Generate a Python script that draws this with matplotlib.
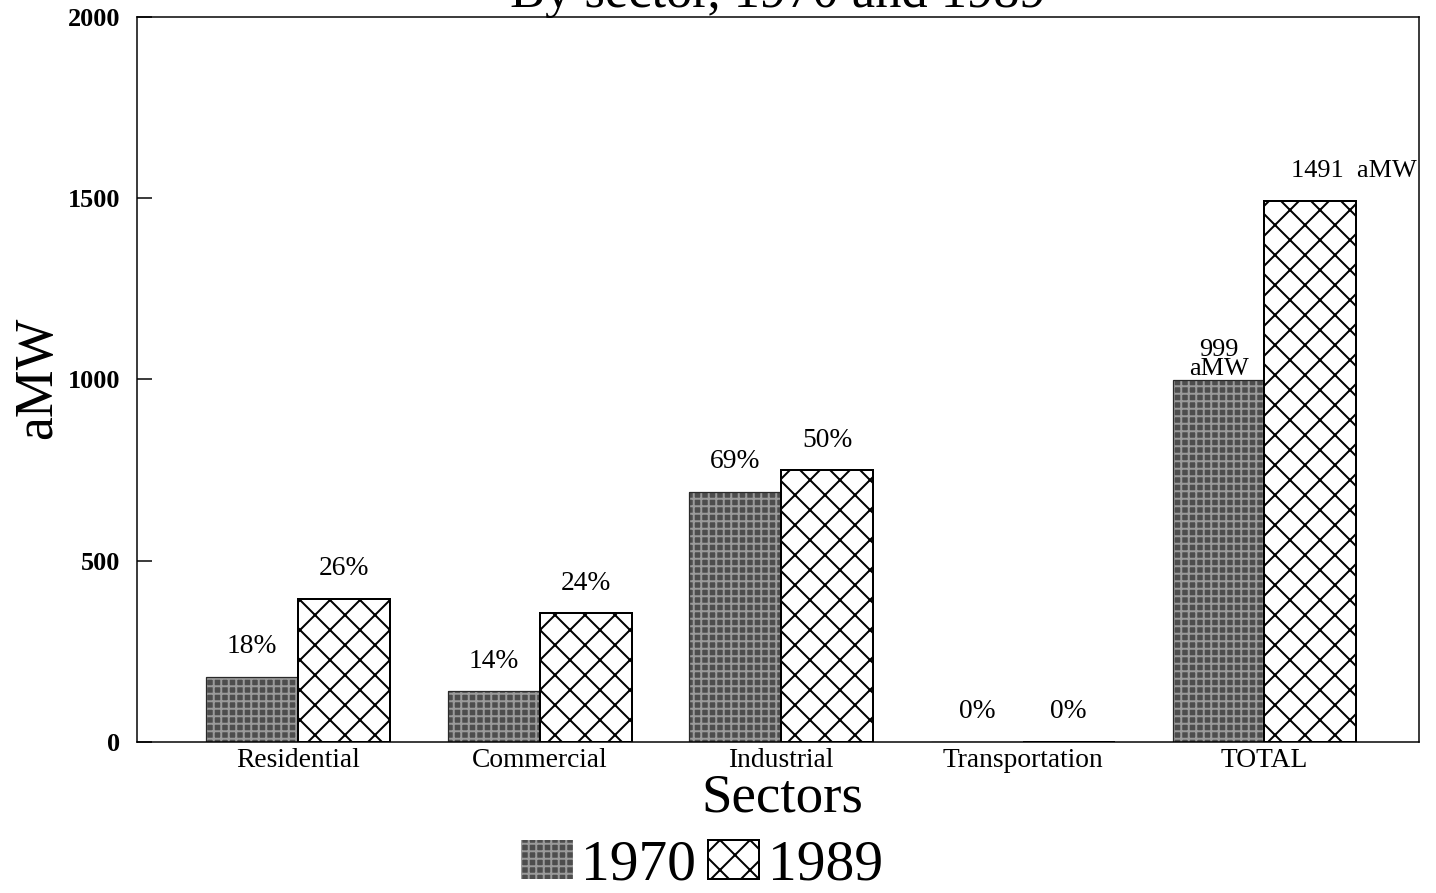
import matplotlib
matplotlib.use("Agg")
import matplotlib.pyplot as plt
import numpy as np

# ── Datos ──────────────────────────────────────────────────────────────────
SECTORES = ["Residential", "Commercial", "Industrial", "Transportation", "TOTAL"]
AMW_1970 = [180, 140, 690, 0, 999]
AMW_1989 = [395, 355, 750, 0, 1491]
PCT_1970 = ["18%", "14%", "69%", "0%"]
PCT_1989 = ["26%", "24%", "50%", "0%"]
Y_TICKS = [0, 500, 1000, 1500, 2000]

plt.rcParams["font.family"] = ["Liberation Serif", "DejaVu Serif"]
plt.rcParams["hatch.linewidth"] = 0.8

DPI = 180
fig = plt.figure(figsize=(1436 / DPI, 893 / DPI), dpi=DPI)
fig.patch.set_facecolor("white")
ax = fig.add_axes([0.0954, 0.1691, 0.8928, 0.8119])

x = np.arange(len(SECTORES))
w = 0.38

# ── Barras ─────────────────────────────────────────────────────────────────
b70 = ax.bar(x - w / 2, AMW_1970, w, color="#4d4d4d", edgecolor="#9a9a9a",
             hatch="++++", linewidth=0, label="1970")
ax.bar(x - w / 2, AMW_1970, w, fill=False, edgecolor="#2a2a2a", linewidth=0.5)
b89 = ax.bar(x + w / 2, AMW_1989, w, color="white", edgecolor="black",
             hatch="xx", linewidth=0.8, label="1989")

# porcentajes sobre cada barra
for i, txt in enumerate(PCT_1970):
    ax.annotate(txt, (x[i] - w / 2, AMW_1970[i]), xytext=(0, 12),
                textcoords="offset points", ha="center", va="center", fontsize=11)
for i, txt in enumerate(PCT_1989):
    ax.annotate(txt, (x[i] + w / 2, AMW_1989[i]), xytext=(0, 12),
                textcoords="offset points", ha="center", va="center", fontsize=11)

# totales
ax.annotate(f"{AMW_1970[-1]}\naMW", (x[-1] - w / 2, AMW_1970[-1]), xytext=(0, 0),
            textcoords="offset points", ha="center", va="bottom", fontsize=10.5,
            linespacing=0.8)
ax.annotate(f"{AMW_1989[-1]}  aMW", (x[-1] + w / 2, AMW_1989[-1]), xytext=(17.5, 12),
            textcoords="offset points", ha="center", va="center", fontsize=10.5)

# ── Ejes ───────────────────────────────────────────────────────────────────
ax.set_xlim(-0.667, 4.64)
ax.set_ylim(0, 2000)
ax.set_yticks(Y_TICKS)
ax.set_yticklabels([str(v) for v in Y_TICKS], fontsize=10.5, fontweight="bold")
ax.set_xticks(x)
ax.set_xticklabels(SECTORES, fontsize=11)
ax.tick_params(axis="y", direction="in", length=6, width=0.6, pad=6.8)
ax.tick_params(axis="x", length=0, pad=2.5)
for sp in ax.spines.values():
    sp.set_linewidth(0.6)

fig.text(778 / 1436, 1 - 7 / 893, "By sector, 1970 and 1989", ha="center",
         va="baseline", fontsize=21)
fig.text(38 / 1436, 1 - 378 / 893, "aMW", rotation=90, ha="center", va="center",
         fontsize=21.5)
fig.text(782 / 1436, 1 - 798 / 893, "Sectors", ha="center", va="center", fontsize=22)

fig.legend(handles=[b70, b89], labels=["1970", "1989"], loc="center",
           bbox_to_anchor=(702 / 1436, 1 - 866 / 893), ncol=2, frameon=False,
           fontsize=23, handlelength=0.9, handleheight=0.67, handletextpad=0.15,
           columnspacing=0.2, borderpad=0, borderaxespad=0)

fig.savefig("out.png", dpi=DPI)
